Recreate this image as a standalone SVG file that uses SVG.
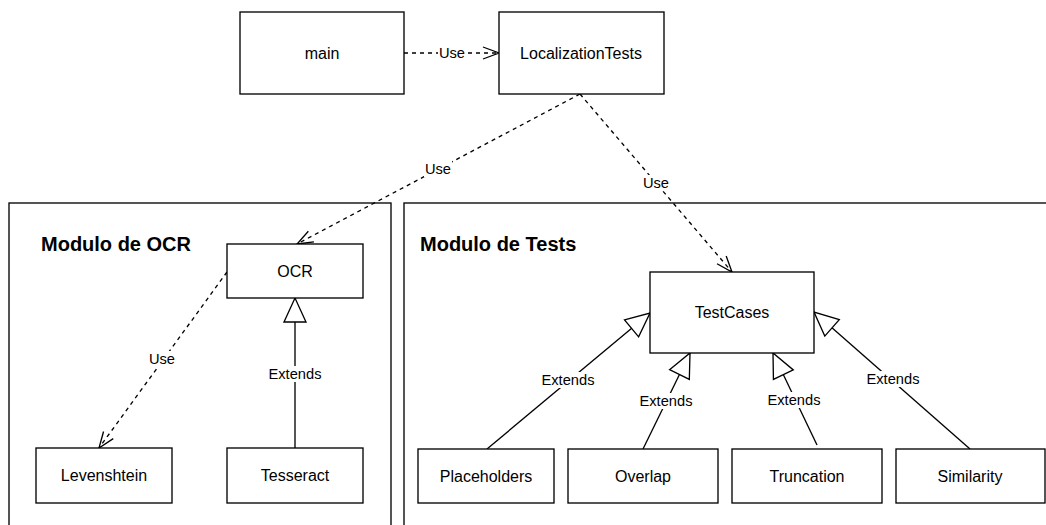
<svg xmlns="http://www.w3.org/2000/svg" width="1046" height="525" viewBox="0 0 1046 525">
<style>
.box{fill:#fff;stroke:#000;stroke-width:1.33}
.cont{fill:#fff;stroke:#000;stroke-width:1.33}
.t{font-family:"Liberation Sans",Arial,sans-serif;font-size:16px;fill:#000;text-anchor:middle}
.title{font-family:"Liberation Sans",Arial,sans-serif;font-size:20px;font-weight:bold;fill:#000}
.lbl{font-family:"Liberation Sans",Arial,sans-serif;font-size:14.67px;fill:#000;text-anchor:middle}
.lbg{fill:#fff}
.use{fill:none;stroke:#000;stroke-width:1.33;stroke-dasharray:4 4;marker-end:url(#open)}
.ext{fill:none;stroke:#000;stroke-width:1.33;marker-end:url(#tri)}
</style>
<defs>
<marker id="open" markerUnits="userSpaceOnUse" viewBox="-18 -8 20 16" markerWidth="20" markerHeight="16" refX="0" refY="0" orient="auto">
<path d="M-16,-6 L0,0 L-16,6" fill="none" stroke="#000" stroke-width="1.33" stroke-dasharray="none"/>
</marker>
<marker id="tri" markerUnits="userSpaceOnUse" viewBox="-26 -13 28 26" markerWidth="28" markerHeight="26" refX="0" refY="0" orient="auto">
<path d="M-24,-11 L0,0 L-24,11 Z" fill="#fff" stroke="#000" stroke-width="1.33"/>
</marker>
</defs>

<g id="modulo-ocr">
<rect class="cont" x="9" y="203" width="382" height="340"/>
<text class="title" x="41" y="251">Modulo de OCR</text>
</g>
<g id="modulo-tests">
<rect class="cont" x="404" y="203" width="660" height="340"/>
<text class="title" x="420" y="251">Modulo de Tests</text>
</g>

<g id="connectors">
<line class="use" x1="404" y1="53" x2="499" y2="53"/>
<line class="use" x1="580" y1="94" x2="297" y2="244"/>
<line class="use" x1="580" y1="94" x2="732" y2="272"/>
<line class="use" x1="227" y1="272" x2="99" y2="448"/>
<line class="ext" x1="295" y1="448" x2="295" y2="298"/>
<line class="ext" x1="487" y1="449" x2="650" y2="313"/>
<line class="ext" x1="643" y1="449" x2="690" y2="353"/>
<line class="ext" x1="817" y1="445" x2="773" y2="353"/>
<line class="ext" x1="970" y1="449" x2="814" y2="312"/>
<g id="labels">
<rect class="lbg" x="438" y="45" width="28" height="16"/><text class="lbl" x="452" y="58">Use</text>
<rect class="lbg" x="424" y="161" width="28" height="16"/><text class="lbl" x="438" y="174">Use</text>
<rect class="lbg" x="642" y="175" width="28" height="16"/><text class="lbl" x="656" y="188">Use</text>
<rect class="lbg" x="148" y="351" width="28" height="16"/><text class="lbl" x="162" y="364">Use</text>
<rect class="lbg" x="268" y="366" width="54" height="16"/><text class="lbl" x="295" y="379">Extends</text>
<rect class="lbg" x="541" y="372" width="54" height="16"/><text class="lbl" x="568" y="385">Extends</text>
<rect class="lbg" x="639" y="393" width="54" height="16"/><text class="lbl" x="666" y="406">Extends</text>
<rect class="lbg" x="767" y="392" width="54" height="16"/><text class="lbl" x="794" y="405">Extends</text>
<rect class="lbg" x="866" y="371" width="54" height="16"/><text class="lbl" x="893" y="384">Extends</text>
</g>
</g>

<g id="main"><rect class="box" x="240" y="12" width="164" height="82"/><text class="t" x="322" y="59">main</text></g>
<g id="localizationtests"><rect class="box" x="499" y="12" width="165" height="82"/><text class="t" x="581" y="59">LocalizationTests</text></g>
<g id="ocr"><rect class="box" x="227" y="244" width="136" height="54"/><text class="t" x="295" y="277">OCR</text></g>
<g id="levenshtein"><rect class="box" x="36" y="448" width="136" height="55"/><text class="t" x="104" y="481">Levenshtein</text></g>
<g id="tesseract"><rect class="box" x="227" y="448" width="136" height="55"/><text class="t" x="295" y="481">Tesseract</text></g>
<g id="testcases"><rect class="box" x="650" y="272" width="164" height="81"/><text class="t" x="732" y="318">TestCases</text></g>
<g id="placeholders"><rect class="box" x="418" y="449" width="136" height="54"/><text class="t" x="486" y="482">Placeholders</text></g>
<g id="overlap"><rect class="box" x="568" y="449" width="150" height="54"/><text class="t" x="643" y="482">Overlap</text></g>
<g id="truncation"><rect class="box" x="732" y="449" width="150" height="54"/><text class="t" x="807" y="482">Truncation</text></g>
<g id="similarity"><rect class="box" x="896" y="449" width="149" height="54"/><text class="t" x="970" y="482">Similarity</text></g>
</svg>
